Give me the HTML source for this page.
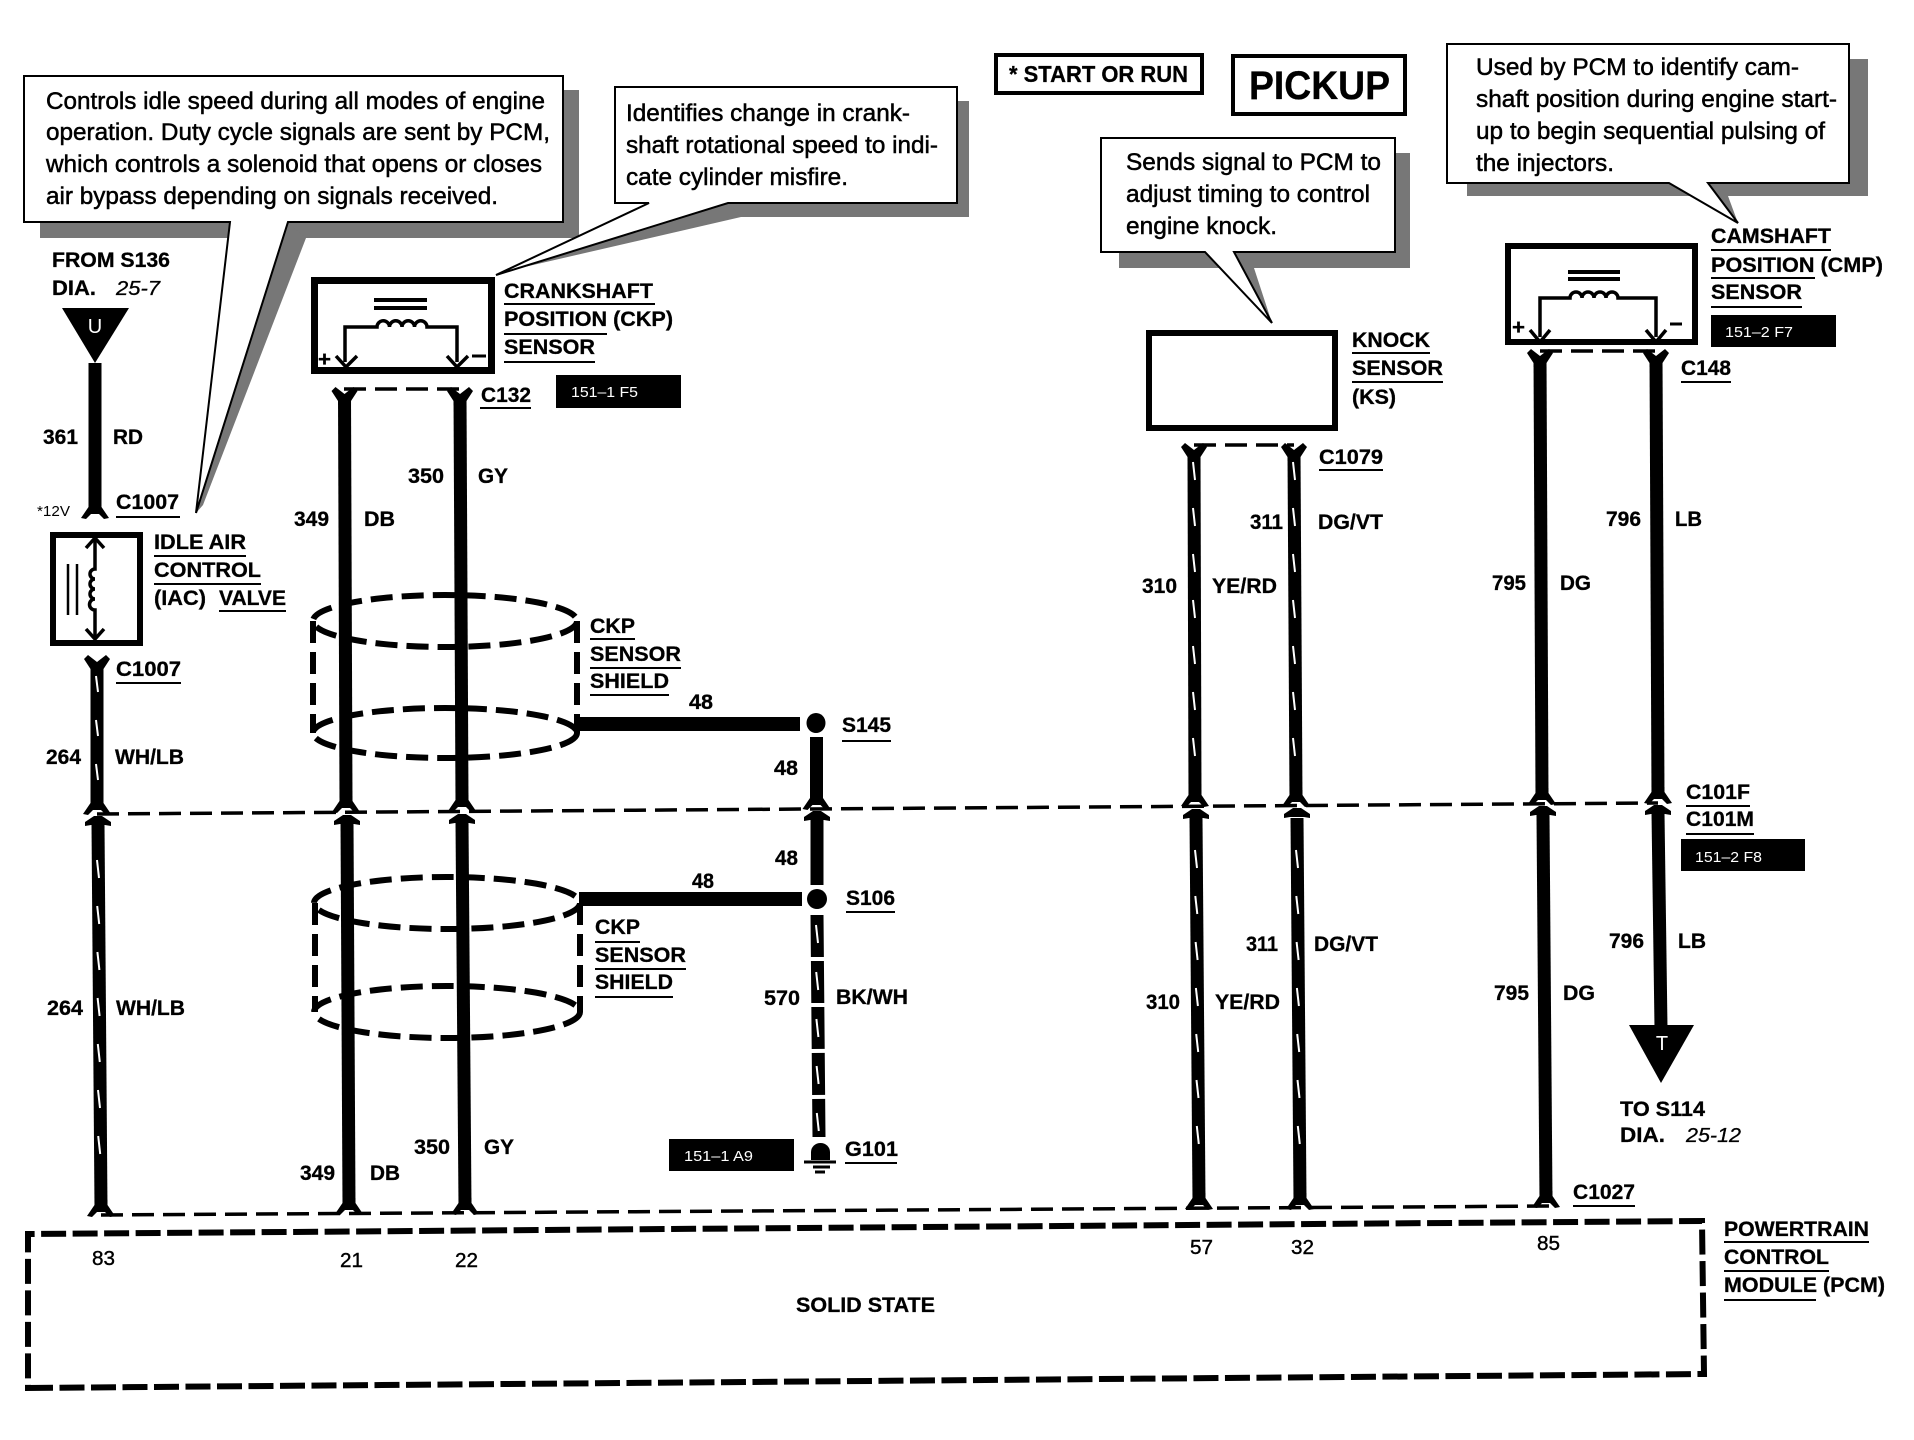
<!DOCTYPE html>
<html><head><meta charset="utf-8"><style>
html,body{margin:0;padding:0;background:#fff}
svg{display:block}
text{font-family:"Liberation Sans",sans-serif;fill:#000}
.b{font-weight:bold;font-size:21.500px;stroke:#000;stroke-width:.3}
.c{font-size:24px;stroke:#000;stroke-width:.5}
.n{font-size:20px;stroke:#000;stroke-width:.4}
.w{font-size:15px;fill:#fff}
.i{font-style:italic;font-size:20px;stroke:#000;stroke-width:.3}
</style></head><body>
<svg xmlns="http://www.w3.org/2000/svg" width="1914" height="1440" viewBox="0 0 1914 1440">
<defs>
<path id="y" d="M-13 -5L-9 -9L0 -2L9 -9L13 -5L6.500 5V9H-6.500V5Z"/>
<path id="f" d="M-14 4L-9 5L-4 0H4L9 5L14 4L6.500 -7V-12H-6.500V-7Z"/>
<path id="a" d="M-4 0H4L13 6V10L7 9H-7L-13 10V6Z"/>
</defs>
<rect width="1914" height="1440" fill="#fff"/>

<!-- shadows -->
<g fill="#777">
<rect x="40" y="90" width="539" height="148"/><path d="M288 223L306 238L203 505L196 513Z"/>
<rect x="728" y="101" width="241" height="116"/><path d="M728 202L741 217L520 268L496 275Z"/>
<rect x="1119" y="153" width="291" height="115"/><path d="M1234 252L1254 268L1272 323Z"/>
<rect x="1467" y="59" width="401" height="137"/><path d="M1708 183L1728 196L1738 223Z"/>
</g>
<!-- callouts -->
<g fill="#fff" stroke="#000" stroke-width="2">
<path d="M24 76H563V222H288L196 513L230 222H24Z"/>
<path d="M615 87H957V203H728L496 275L649 203H615Z"/>
<path d="M1101 138H1395V252H1234L1272 323L1205 252H1101Z"/>
<path d="M1447 44H1849V183H1708L1738 223L1669 183H1447Z"/>
</g>
<g>
<text class="c" x="46" y="109" textLength="499" lengthAdjust="spacingAndGlyphs">Controls idle speed during all modes of engine</text>
<text class="c" x="46" y="140" textLength="504" lengthAdjust="spacingAndGlyphs">operation. Duty cycle signals are sent by PCM,</text>
<text class="c" x="46" y="172" textLength="496" lengthAdjust="spacingAndGlyphs">which controls a solenoid that opens or closes</text>
<text class="c" x="46" y="204" textLength="452" lengthAdjust="spacingAndGlyphs">air bypass depending on signals received.</text>
<text class="c" x="626" y="121" textLength="284" lengthAdjust="spacingAndGlyphs">Identifies change in crank-</text>
<text class="c" x="626" y="153" textLength="312" lengthAdjust="spacingAndGlyphs">shaft rotational speed to indi-</text>
<text class="c" x="626" y="185" textLength="222" lengthAdjust="spacingAndGlyphs">cate cylinder misfire.</text>
<text class="c" x="1126" y="170" textLength="255" lengthAdjust="spacingAndGlyphs">Sends signal to PCM to</text>
<text class="c" x="1126" y="202" textLength="244" lengthAdjust="spacingAndGlyphs">adjust timing to control</text>
<text class="c" x="1126" y="234" textLength="151" lengthAdjust="spacingAndGlyphs">engine knock.</text>
<text class="c" x="1476" y="75" textLength="323" lengthAdjust="spacingAndGlyphs">Used by PCM to identify cam-</text>
<text class="c" x="1476" y="107" textLength="361" lengthAdjust="spacingAndGlyphs">shaft position during engine start-</text>
<text class="c" x="1476" y="139" textLength="349" lengthAdjust="spacingAndGlyphs">up to begin sequential pulsing of</text>
<text class="c" x="1476" y="171" textLength="138" lengthAdjust="spacingAndGlyphs">the injectors.</text>
</g>

<!-- title boxes -->
<rect x="996" y="55" width="206" height="38" fill="#fff" stroke="#000" stroke-width="4"/>
<text class="b" x="1009" y="82" textLength="179" lengthAdjust="spacingAndGlyphs" style="font-size:23px">* START OR RUN</text>
<rect x="1233" y="56" width="172" height="58" fill="#fff" stroke="#000" stroke-width="4"/>
<text class="b" x="1249" y="99" textLength="141" lengthAdjust="spacingAndGlyphs" style="font-size:40px">PICKUP</text>

<!-- component boxes -->
<g fill="none" stroke="#000">
<rect x="314.500" y="280.500" width="177" height="90" stroke-width="7"/>
<rect x="53" y="535" width="87" height="108" stroke-width="6"/>
<rect x="1149" y="333" width="186" height="95" stroke-width="6"/>
<rect x="1508" y="246" width="187" height="96" stroke-width="6"/>
</g>
<g fill="none" stroke="#000" stroke-width="3.500">
<path d="M374 300H427M374 308H427" stroke-width="4"/>
<path d="M345 362V327H377a6 6 0 0 1 12.500 0a6 6 0 0 1 12.500 0a6 6 0 0 1 12.500 0a6 6 0 0 1 12.500 0H457V362"/>
<path d="M336 356L346 367L357 356M447 356L457 367L468 356"/>
<path d="M1568 272H1620M1568 279H1620" stroke-width="4"/>
<path d="M1540 337V298H1570a6 6 0 0 1 12 0a6 6 0 0 1 12 0a6 6 0 0 1 12 0a6 6 0 0 1 12 0H1656V337"/>
<path d="M1530 330L1540 342L1550 330M1646 330L1656 342L1666 330"/>
<path d="M68 564V615M77 564V615" stroke-width="2.500"/>
<path d="M95 540V569a5 5 0 0 0 0 10a5 5 0 0 0 0 10a5 5 0 0 0 0 10a5 5 0 0 0 0 11V638"/>
<path d="M86 548L95 538L104 548M86 629L95 639L104 629"/>
</g>
<text class="b" x="318" y="366" textLength="13" lengthAdjust="spacingAndGlyphs">+</text>
<path d="M472 356H486" stroke="#000" stroke-width="3"/>
<text class="b" x="1512" y="334" textLength="13" lengthAdjust="spacingAndGlyphs">+</text>
<path d="M1670 324H1682" stroke="#000" stroke-width="3"/>

<!-- triangles -->
<path d="M62 308H129L95 363Z"/>
<text x="95" y="333" text-anchor="middle" style="font-size:20px;fill:#fff">U</text>
<path d="M1629 1025H1694L1661 1083Z"/>
<text x="1662" y="1050" text-anchor="middle" style="font-size:20px;fill:#fff">T</text>

<!-- shields -->
<g fill="none" stroke="#000" stroke-width="6" stroke-dasharray="22 9">
<ellipse cx="445" cy="621" rx="132" ry="26"/>
<ellipse cx="445" cy="733" rx="132" ry="25"/>
<path d="M313 621V733M577 621V733"/>
<ellipse cx="447" cy="903" rx="133" ry="26"/>
<ellipse cx="447" cy="1012" rx="133" ry="26"/>
<path d="M315 903V1012M580 903V1012"/>
</g>

<!-- dashed connector lines -->
<g fill="none" stroke="#000" stroke-width="3.500" stroke-dasharray="22 9">
<path d="M344 389H460M1194 445H1294M1540 351H1656"/>
<path d="M97 814L1658 803"/>
<path d="M101 1215L1557 1206"/>
</g>
<g fill="none" stroke="#000" stroke-width="6" stroke-dasharray="25 6.500">
<path d="M28 1388L1704 1374L1702 1221L28 1234Z"/>
</g>

<!-- wires -->
<g fill="none" stroke="#000" stroke-width="13">
<path d="M95 363V508"/>
<path d="M97 664V802"/>
<path d="M98 824L101 1208"/>
<path d="M344.500 396L346 802"/>
<path d="M460 396L462 802"/>
<path d="M347 822L349 1206"/>
<path d="M462 822L465 1206"/>
<path d="M1194 452L1195 800"/>
<path d="M1294 452L1296 800"/>
<path d="M1196 818L1199 1201"/>
<path d="M1297 818L1300 1200"/>
<path d="M1540 356L1542 798"/>
<path d="M1656 356L1658 797"/>
<path d="M1543 815L1546 1200"/>
<path d="M1658 813L1661 1028"/>
<path d="M816.500 737V800"/>
<path d="M817 818V885"/>
<path d="M817 915L819 1137" stroke-dasharray="42 4"/>
<path d="M575 724H800" stroke-width="14"/>
<path d="M579 899H802" stroke-width="14"/>
</g>
<ellipse cx="816" cy="723" rx="9.500" ry="10"/>
<ellipse cx="817" cy="899" rx="10" ry="10"/>
<path d="M811 1160V1152a9.500 9 0 0 1 19 0V1160Z"/>
<path d="M804 1162H836M813 1167H830M815 1172H825" stroke="#000" stroke-width="3"/>

<!-- wire stripes -->
<g fill="none" stroke="#fff" stroke-width="2">
<path d="M96 676l2 16m-2 28l2 16m-2 28l2 16"/>
<path d="M97 860l2 18m-1.800 28l2 18m-1.800 28l2 18m-1.800 28l2 18m-1.800 28l2 18m-1.800 28l2 18m-1.800 28l2 18"/>
<path d="M1193 462l2 18m-2 28l2 18m-2 28l2 18m-2 28l2 18m-2 28l2 18m-2 28l2 18m-2 28l2 18"/>
<path d="M1293 462l2 18m-2 28l2 18m-2 28l2 18m-2 28l2 18m-2 28l2 18m-2 28l2 18m-2 28l2 18"/>
<path d="M1195 850l2 18m-1.700 28l2 18m-1.700 28l2 18m-1.700 28l2 18m-1.700 28l2 18m-1.700 28l2 18m-1.700 28l2 18"/>
<path d="M1296 850l2 18m-1.700 28l2 18m-1.700 28l2 18m-1.700 28l2 18m-1.700 28l2 18m-1.700 28l2 18m-1.700 28l2 18"/>
<path d="M816 925l2 18m-1.800 29l2 18m-1.800 29l2 18m-1.800 29l2 18m-1.800 29l2 18"/>
</g>

<!-- connector ends -->
<use href="#y" x="344.500" y="396"/><use href="#y" x="460" y="396"/>
<use href="#y" x="1194" y="452"/><use href="#y" x="1294" y="452"/>
<use href="#y" x="1540" y="358"/><use href="#y" x="1656" y="358"/>
<use href="#y" x="97" y="664"/>
<use href="#f" x="95" y="514"/>
<use href="#f" x="97" y="810"/><use href="#f" x="346" y="808"/><use href="#f" x="462" y="807"/><use href="#f" x="816.500" y="805"/>
<use href="#f" x="1195" y="802"/><use href="#f" x="1296" y="802"/><use href="#f" x="1542" y="800"/><use href="#f" x="1658" y="799"/>
<use href="#a" x="98" y="816"/><use href="#a" x="347" y="815"/><use href="#a" x="462" y="814"/><use href="#a" x="817" y="811"/>
<use href="#a" x="1196" y="809"/><use href="#a" x="1297" y="808"/><use href="#a" x="1543" y="806"/><use href="#a" x="1658" y="805"/>
<use href="#f" x="101" y="1212"/><use href="#f" x="349" y="1210"/><use href="#f" x="465" y="1210"/>
<use href="#f" x="1199" y="1205"/><use href="#f" x="1300" y="1205"/><use href="#f" x="1546" y="1203"/>

<!-- reference boxes -->
<g>
<rect x="556" y="375" width="125" height="33"/>
<rect x="1711" y="315" width="125" height="32"/>
<rect x="1681" y="839" width="124" height="32"/>
<rect x="669" y="1139" width="125" height="32"/>
</g>
<text class="w" x="571" y="397" textLength="67" lengthAdjust="spacingAndGlyphs">151–1 F5</text>
<text class="w" x="1725" y="337" textLength="68" lengthAdjust="spacingAndGlyphs">151–2 F7</text>
<text class="w" x="1695" y="862" textLength="67" lengthAdjust="spacingAndGlyphs">151–2 F8</text>
<text class="w" x="684" y="1161" textLength="69" lengthAdjust="spacingAndGlyphs">151–1 A9</text>

<!-- underlines -->
<path fill="none" stroke="#000" stroke-width="2" d="
M504 304H655M504 334H607M504 362H595
M480 408H531
M116 517H180M116 683H181
M154 556H246M154 584H261M219 611H286
M590 639H635M590 668H681M590 695H669
M595 942H640M595 969H686M595 997H673
M842 741H891M846 912H895M845 1163H897
M1711 250H1831M1711 278H1815M1711 307H1802
M1352 353H1430M1352 382H1443
M1319 470H1383M1681 382H1731
M1686 806H1750M1686 834H1754
M1573 1206H1635
M1724 1242H1869M1724 1271H1829M1724 1300H1816"/>

<!-- bold labels -->
<g>
<text class="b" x="52" y="267" textLength="118" lengthAdjust="spacingAndGlyphs">FROM S136</text>
<text class="b" x="52" y="295" textLength="44" lengthAdjust="spacingAndGlyphs">DIA.</text>
<text class="i" x="116" y="295" textLength="44" lengthAdjust="spacingAndGlyphs">25-7</text>
<text class="b" x="43" y="444" textLength="35" lengthAdjust="spacingAndGlyphs">361</text>
<text class="b" x="113" y="444" textLength="30" lengthAdjust="spacingAndGlyphs">RD</text>
<text class="b" x="116" y="509" textLength="63" lengthAdjust="spacingAndGlyphs">C1007</text>
<text x="37" y="516" textLength="33" lengthAdjust="spacingAndGlyphs" style="font-size:15px">*12V</text>
<text class="b" x="154" y="549" textLength="92" lengthAdjust="spacingAndGlyphs">IDLE AIR</text>
<text class="b" x="154" y="577" textLength="107" lengthAdjust="spacingAndGlyphs">CONTROL</text>
<text class="b" x="154" y="605" textLength="52" lengthAdjust="spacingAndGlyphs">(IAC)</text>
<text class="b" x="219" y="605" textLength="67" lengthAdjust="spacingAndGlyphs">VALVE</text>
<text class="b" x="116" y="676" textLength="65" lengthAdjust="spacingAndGlyphs">C1007</text>
<text class="b" x="46" y="764" textLength="35" lengthAdjust="spacingAndGlyphs">264</text>
<text class="b" x="115" y="764" textLength="69" lengthAdjust="spacingAndGlyphs">WH/LB</text>
<text class="b" x="47" y="1015" textLength="36" lengthAdjust="spacingAndGlyphs">264</text>
<text class="b" x="116" y="1015" textLength="69" lengthAdjust="spacingAndGlyphs">WH/LB</text>

<text class="b" x="504" y="298" textLength="149" lengthAdjust="spacingAndGlyphs">CRANKSHAFT</text>
<text class="b" x="504" y="326" textLength="169" lengthAdjust="spacingAndGlyphs">POSITION (CKP)</text>
<text class="b" x="504" y="354" textLength="91" lengthAdjust="spacingAndGlyphs">SENSOR</text>
<text class="b" x="481" y="402" textLength="50" lengthAdjust="spacingAndGlyphs">C132</text>
<text class="b" x="408" y="483" textLength="36" lengthAdjust="spacingAndGlyphs">350</text>
<text class="b" x="478" y="483" textLength="30" lengthAdjust="spacingAndGlyphs">GY</text>
<text class="b" x="294" y="526" textLength="35" lengthAdjust="spacingAndGlyphs">349</text>
<text class="b" x="364" y="526" textLength="31" lengthAdjust="spacingAndGlyphs">DB</text>
<text class="b" x="414" y="1154" textLength="36" lengthAdjust="spacingAndGlyphs">350</text>
<text class="b" x="484" y="1154" textLength="30" lengthAdjust="spacingAndGlyphs">GY</text>
<text class="b" x="300" y="1180" textLength="35" lengthAdjust="spacingAndGlyphs">349</text>
<text class="b" x="370" y="1180" textLength="30" lengthAdjust="spacingAndGlyphs">DB</text>

<text class="b" x="590" y="633" textLength="45" lengthAdjust="spacingAndGlyphs">CKP</text>
<text class="b" x="590" y="661" textLength="91" lengthAdjust="spacingAndGlyphs">SENSOR</text>
<text class="b" x="590" y="688" textLength="79" lengthAdjust="spacingAndGlyphs">SHIELD</text>
<text class="b" x="595" y="934" textLength="45" lengthAdjust="spacingAndGlyphs">CKP</text>
<text class="b" x="595" y="962" textLength="91" lengthAdjust="spacingAndGlyphs">SENSOR</text>
<text class="b" x="595" y="989" textLength="78" lengthAdjust="spacingAndGlyphs">SHIELD</text>

<text class="b" x="689" y="709" textLength="24" lengthAdjust="spacingAndGlyphs">48</text>
<text class="b" x="842" y="732" textLength="49" lengthAdjust="spacingAndGlyphs">S145</text>
<text class="b" x="774" y="775" textLength="24" lengthAdjust="spacingAndGlyphs">48</text>
<text class="b" x="775" y="865" textLength="23" lengthAdjust="spacingAndGlyphs">48</text>
<text class="b" x="692" y="888" textLength="22" lengthAdjust="spacingAndGlyphs">48</text>
<text class="b" x="846" y="905" textLength="49" lengthAdjust="spacingAndGlyphs">S106</text>
<text class="b" x="764" y="1005" textLength="36" lengthAdjust="spacingAndGlyphs">570</text>
<text class="b" x="836" y="1004" textLength="72" lengthAdjust="spacingAndGlyphs">BK/WH</text>
<text class="b" x="845" y="1156" textLength="53" lengthAdjust="spacingAndGlyphs">G101</text>

<text class="b" x="1352" y="347" textLength="78" lengthAdjust="spacingAndGlyphs">KNOCK</text>
<text class="b" x="1352" y="375" textLength="91" lengthAdjust="spacingAndGlyphs">SENSOR</text>
<text class="b" x="1352" y="404" textLength="44" lengthAdjust="spacingAndGlyphs">(KS)</text>
<text class="b" x="1319" y="464" textLength="64" lengthAdjust="spacingAndGlyphs">C1079</text>
<text class="b" x="1250" y="529" textLength="33" lengthAdjust="spacingAndGlyphs">311</text>
<text class="b" x="1318" y="529" textLength="65" lengthAdjust="spacingAndGlyphs">DG/VT</text>
<text class="b" x="1142" y="593" textLength="35" lengthAdjust="spacingAndGlyphs">310</text>
<text class="b" x="1212" y="593" textLength="65" lengthAdjust="spacingAndGlyphs">YE/RD</text>
<text class="b" x="1246" y="951" textLength="32" lengthAdjust="spacingAndGlyphs">311</text>
<text class="b" x="1314" y="951" textLength="64" lengthAdjust="spacingAndGlyphs">DG/VT</text>
<text class="b" x="1146" y="1009" textLength="34" lengthAdjust="spacingAndGlyphs">310</text>
<text class="b" x="1215" y="1009" textLength="65" lengthAdjust="spacingAndGlyphs">YE/RD</text>

<text class="b" x="1711" y="243" textLength="120" lengthAdjust="spacingAndGlyphs">CAMSHAFT</text>
<text class="b" x="1711" y="272" textLength="172" lengthAdjust="spacingAndGlyphs">POSITION (CMP)</text>
<text class="b" x="1711" y="299" textLength="91" lengthAdjust="spacingAndGlyphs">SENSOR</text>
<text class="b" x="1681" y="375" textLength="50" lengthAdjust="spacingAndGlyphs">C148</text>
<text class="b" x="1606" y="526" textLength="35" lengthAdjust="spacingAndGlyphs">796</text>
<text class="b" x="1675" y="526" textLength="27" lengthAdjust="spacingAndGlyphs">LB</text>
<text class="b" x="1492" y="590" textLength="34" lengthAdjust="spacingAndGlyphs">795</text>
<text class="b" x="1560" y="590" textLength="31" lengthAdjust="spacingAndGlyphs">DG</text>
<text class="b" x="1686" y="799" textLength="64" lengthAdjust="spacingAndGlyphs">C101F</text>
<text class="b" x="1686" y="826" textLength="68" lengthAdjust="spacingAndGlyphs">C101M</text>
<text class="b" x="1609" y="948" textLength="35" lengthAdjust="spacingAndGlyphs">796</text>
<text class="b" x="1678" y="948" textLength="28" lengthAdjust="spacingAndGlyphs">LB</text>
<text class="b" x="1494" y="1000" textLength="35" lengthAdjust="spacingAndGlyphs">795</text>
<text class="b" x="1563" y="1000" textLength="32" lengthAdjust="spacingAndGlyphs">DG</text>
<text class="b" x="1620" y="1116" textLength="85" lengthAdjust="spacingAndGlyphs">TO S114</text>
<text class="b" x="1620" y="1142" textLength="45" lengthAdjust="spacingAndGlyphs">DIA.</text>
<text class="i" x="1686" y="1142" textLength="55" lengthAdjust="spacingAndGlyphs">25-12</text>
<text class="b" x="1573" y="1199" textLength="62" lengthAdjust="spacingAndGlyphs">C1027</text>

<text class="n" x="92" y="1265" textLength="23" lengthAdjust="spacingAndGlyphs">83</text>
<text class="n" x="340" y="1267" textLength="23" lengthAdjust="spacingAndGlyphs">21</text>
<text class="n" x="455" y="1267" textLength="23" lengthAdjust="spacingAndGlyphs">22</text>
<text class="n" x="1190" y="1254" textLength="23" lengthAdjust="spacingAndGlyphs">57</text>
<text class="n" x="1291" y="1254" textLength="23" lengthAdjust="spacingAndGlyphs">32</text>
<text class="n" x="1537" y="1250" textLength="23" lengthAdjust="spacingAndGlyphs">85</text>

<text class="b" x="796" y="1312" textLength="139" lengthAdjust="spacingAndGlyphs">SOLID STATE</text>
<text class="b" x="1724" y="1236" textLength="145" lengthAdjust="spacingAndGlyphs">POWERTRAIN</text>
<text class="b" x="1724" y="1264" textLength="105" lengthAdjust="spacingAndGlyphs">CONTROL</text>
<text class="b" x="1724" y="1292" textLength="161" lengthAdjust="spacingAndGlyphs">MODULE (PCM)</text>
</g>
</svg>
</body></html>
